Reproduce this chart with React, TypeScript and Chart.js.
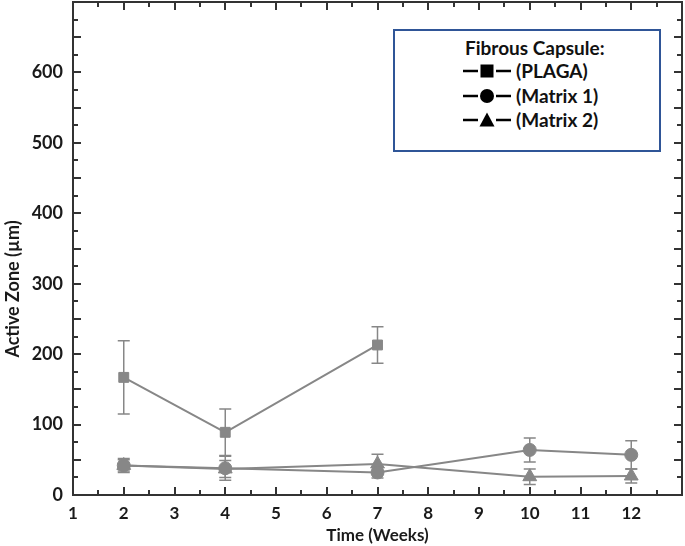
import React, { useEffect, useRef } from "react";
import { Chart, registerables } from "chart.js";

Chart.register(...registerables);

// ---- data ----
const weeks = [2, 4, 7, 10, 12];
const plagaWeeks = [2, 4, 7];
const plagaMean = [167, 89, 213];
const plagaErr = [52, 33, 26];
const matrix1Mean = [42, 38, 32, 64, 57];
const matrix1Err = [10, 17, 8, 17, 20];
const matrix2Mean = [42, 37, 44, 26, 27];
const matrix2Err = [8, 12, 14, 11, 10];
const xTickLabels = [1, 2, 3, 4, 5, 6, 7, 8, 9, 10, 11, 12];
const yTickLabels = [0, 100, 200, 300, 400, 500, 600];
const seriesNames = ["PLAGA", "Matrix 1", "Matrix 2"];
const legendTitle = "Fibrous Capsule:";
const xTitle = "Time (Weeks)";
const yTitle = "Active Zone (\u00b5m)";

const FONT = "Lato, 'Open Sans', 'DejaVu Sans', sans-serif";
const GRAY = "#878787";
const INK = "#1a1a1a";

const seriesX = [plagaWeeks, weeks, weeks];
const seriesMean = [plagaMean, matrix1Mean, matrix2Mean];
const seriesErr = [plagaErr, matrix1Err, matrix2Err];

const framePlugin = {
  id: "frameTicks",
  beforeDatasetsDraw(chart: any) {
    const { ctx, scales } = chart;
    const xs = scales.x;
    const ys = scales.y;
    ctx.save();
    ctx.strokeStyle = GRAY;
    ctx.lineWidth = 1.5;
    for (let d = 0; d < seriesX.length; d++) {
      for (let j = 0; j < seriesX[d].length; j++) {
        const px = xs.getPixelForValue(seriesX[d][j]);
        const top = ys.getPixelForValue(seriesMean[d][j] + seriesErr[d][j]);
        const bot = ys.getPixelForValue(seriesMean[d][j] - seriesErr[d][j]);
        ctx.beginPath();
        ctx.moveTo(px, top);
        ctx.lineTo(px, bot);
        ctx.moveTo(px - 6, top);
        ctx.lineTo(px + 6, top);
        ctx.moveTo(px - 6, bot);
        ctx.lineTo(px + 6, bot);
        ctx.stroke();
      }
    }
    ctx.restore();
  },
  afterDraw(chart: any) {
    const { ctx, chartArea, scales } = chart;
    const { left, right, top, bottom } = chartArea;
    const xs = scales.x;
    const ys = scales.y;
    ctx.save();
    ctx.strokeStyle = "#333";
    ctx.lineWidth = 2;
    ctx.strokeRect(left, top, right - left, bottom - top);
    ctx.beginPath();
    xs.ticks.forEach((t: any) => {
      if (t.value <= xs.min || t.value >= xs.max) return;
      const px = Math.round(xs.getPixelForValue(t.value));
      const len = Number.isInteger(t.value) ? 8 : 5;
      ctx.moveTo(px, bottom);
      ctx.lineTo(px, bottom - len);
      ctx.moveTo(px, top);
      ctx.lineTo(px, top + len);
    });
    ys.ticks.forEach((t: any) => {
      if (t.value <= ys.min || t.value >= ys.max) return;
      const py = Math.round(ys.getPixelForValue(t.value));
      const len = t.value % 50 === 0 ? 8 : 5;
      ctx.moveTo(left, py);
      ctx.lineTo(left + len, py);
      ctx.moveTo(right, py);
      ctx.lineTo(right - len, py);
    });
    ctx.stroke();
    // y axis title
    ctx.translate(13, 289);
    ctx.rotate(-Math.PI / 2);
    ctx.fillStyle = INK;
    ctx.font = `bold 18px ${FONT}`;
    ctx.textAlign = "center";
    ctx.textBaseline = "middle";
    ctx.fillText(yTitle, 0, 0);
    ctx.restore();
  },
};

function Symbol({ kind }: { kind: number }) {
  return (
    <svg width={48} height={20} style={{ display: "block" }}>
      <line x1={0} y1={10} x2={15} y2={10} stroke="#000" strokeWidth={2.5} />
      <line x1={33} y1={10} x2={48} y2={10} stroke="#000" strokeWidth={2.5} />
      {kind === 0 && <rect x={17.5} y={3.5} width={13} height={13} fill="#000" />}
      {kind === 1 && <circle cx={24} cy={10} r={7} fill="#000" />}
      {kind === 2 && <polygon points="24,2.5 31.5,16.5 16.5,16.5" fill="#000" />}
    </svg>
  );
}

export default function App() {
  const ref = useRef<HTMLCanvasElement | null>(null);

  useEffect(() => {
    if (!ref.current) return;
    const font = { family: FONT, size: 17, weight: "bold" as const };
    const mk = (i: number, style: string, radius: number) => ({
      label: seriesNames[i],
      data: seriesX[i].map((x, j) => ({ x, y: seriesMean[i][j] })),
      borderColor: GRAY,
      backgroundColor: GRAY,
      borderWidth: 2,
      pointStyle: style,
      pointRadius: radius,
      pointBackgroundColor: GRAY,
      pointBorderColor: GRAY,
      pointBorderWidth: 1,
      tension: 0,
      fill: false,
      clip: false,
    });
    const chart = new Chart(ref.current, {
      type: "line",
      data: {
        datasets: [mk(0, "rect", 7), mk(1, "circle", 6.5), mk(2, "triangle", 8)] as any,
      },
      options: {
        responsive: false,
        animation: false,
        layout: { autoPadding: false, padding: { top: 2, right: 3, left: 0, bottom: 0 } },
        plugins: { legend: { display: false }, tooltip: { enabled: false } },
        scales: {
          x: {
            type: "linear",
            min: 1,
            max: 13,
            ticks: {
              stepSize: 0.5,
              autoSkip: false,
              maxRotation: 0,
              padding: 8,
              color: INK,
              font,
              callback: (v: any) =>
                Number.isInteger(v) && xTickLabels.includes(v) ? String(v) : "",
            },
            grid: { display: false, drawTicks: false },
            border: { display: false },
            title: {
              display: true,
              text: xTitle,
              color: INK,
              font,
              padding: { top: 0, bottom: 0 },
            },
            afterFit: (s: any) => {
              s.height = 51;
              s.paddingLeft = 0;
              s.paddingRight = 0;
            },
          },
          y: {
            type: "linear",
            min: 0,
            max: 700,
            ticks: {
              stepSize: 25,
              autoSkip: false,
              padding: 10,
              color: INK,
              font: { ...font, size: 18 },
              callback: (v: any) => (yTickLabels.includes(v) ? String(v) : ""),
            },
            grid: { display: false, drawTicks: false },
            border: { display: false },
            afterFit: (s: any) => {
              s.width = 73;
              s.paddingTop = 0;
              s.paddingBottom = 0;
            },
          },
        },
      } as any,
      plugins: [framePlugin],
    });
    return () => chart.destroy();
  }, []);

  const rowTops = [30, 55, 79];
  return (
    <div
      style={{
        position: "fixed",
        left: 0,
        top: 0,
        width: 685,
        height: 546,
        background: "#fff",
      }}
    >
      <canvas ref={ref} width={685} height={546} style={{ display: "block" }} />
      <div
        style={{
          position: "absolute",
          left: 393,
          top: 29,
          width: 268,
          height: 123,
          boxSizing: "border-box",
          border: "2px solid #2f5597",
          background: "#fff",
          fontFamily: FONT,
          fontWeight: 700,
          fontSize: 19,
          color: "#111",
          lineHeight: "20px",
        }}
      >
        <div style={{ position: "absolute", left: 70, top: 7, whiteSpace: "nowrap" }}>
          {legendTitle}
        </div>
        {seriesNames.map((n, i) => (
          <div
            key={n}
            style={{
              position: "absolute",
              left: 68,
              top: rowTops[i],
              display: "flex",
              alignItems: "center",
              whiteSpace: "nowrap",
            }}
          >
            <Symbol kind={i} />
            <span style={{ marginLeft: 5 }}>({n})</span>
          </div>
        ))}
      </div>
    </div>
  );
}
